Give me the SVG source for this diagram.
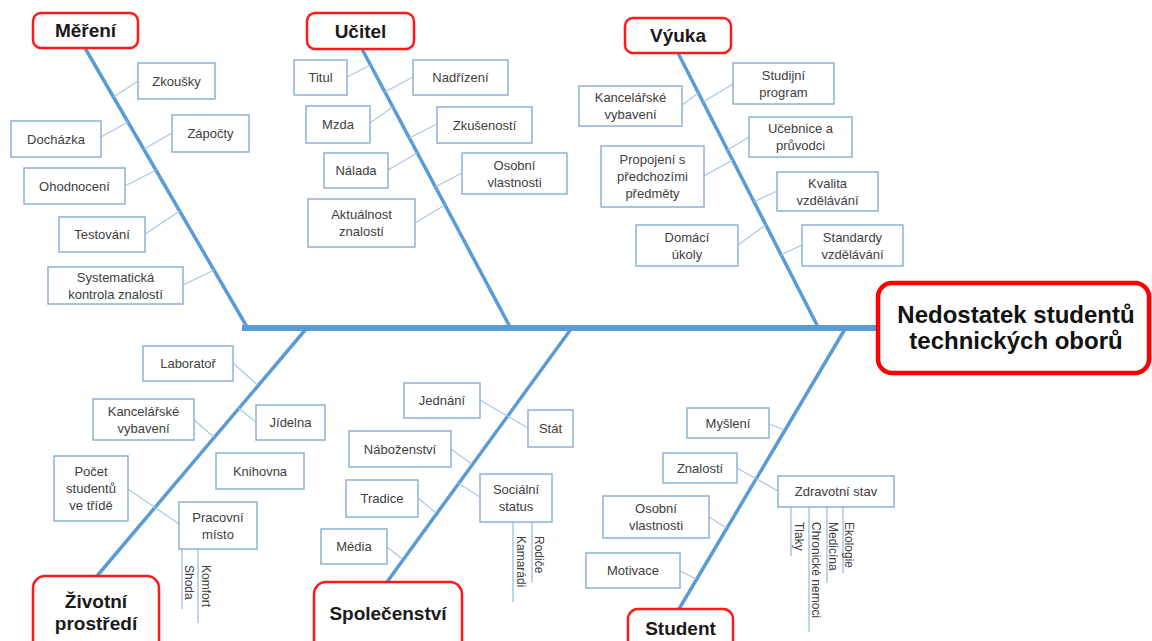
<svg xmlns="http://www.w3.org/2000/svg" width="1152" height="641" viewBox="0 0 1152 641">
<style>
.spine{stroke:#5B9BD5;stroke-width:6;fill:none}
.bone{stroke:#5B9BD5;stroke-width:3.5;fill:none}
.c{stroke:#A9C6E8;stroke-width:1.2;fill:none}
.sub{stroke:#A9C6E8;stroke-width:1.5;fill:none}
.box{fill:#fff;stroke:#8FB0DA;stroke-width:1.5}
.cat{fill:#fff;stroke:#FF1A1A;stroke-width:2.5}
.main{fill:#fff;stroke:#FF0000;stroke-width:4.5}
.t{font-family:"Liberation Sans",Arial,sans-serif;font-size:13px;fill:#404040;text-anchor:middle}
.r{font-family:"Liberation Sans",Arial,sans-serif;font-size:12px;fill:#404040}
.ct{font-family:"Liberation Sans",Arial,sans-serif;font-size:19px;font-weight:bold;fill:#1a1a1a;text-anchor:middle}
.mt{font-family:"Liberation Sans",Arial,sans-serif;font-size:24px;font-weight:bold;fill:#111;text-anchor:middle}
</style>
<rect width="1152" height="641" fill="#fff"/>

<g id="connectors">
  <line class="spine" x1="242" y1="328" x2="878" y2="328"/>
  <line class="bone" x1="85" y1="48" x2="247" y2="327"/>
  <line class="bone" x1="362" y1="49" x2="510" y2="327"/>
  <line class="bone" x1="678" y1="53" x2="818" y2="327"/>
  <line class="bone" x1="306" y1="329" x2="97" y2="576"/>
  <line class="bone" x1="571" y1="329" x2="387" y2="582"/>
  <line class="bone" x1="845" y1="329" x2="679" y2="609"/>
  <!-- Měření -->
  <line class="c" x1="138" y1="81" x2="113.5" y2="97"/>
  <line class="c" x1="101" y1="137" x2="128" y2="122"/>
  <line class="c" x1="172" y1="133" x2="143.8" y2="149"/>
  <line class="c" x1="125" y1="186" x2="156" y2="170"/>
  <line class="c" x1="145" y1="234" x2="180" y2="211"/>
  <line class="c" x1="183" y1="285" x2="214" y2="270"/>
  <!-- Učitel -->
  <line class="c" x1="347" y1="77" x2="370.5" y2="65"/>
  <line class="c" x1="413" y1="77" x2="384.8" y2="92"/>
  <line class="c" x1="370" y1="123" x2="392.8" y2="107"/>
  <line class="c" x1="437" y1="124" x2="409.2" y2="138"/>
  <line class="c" x1="388" y1="170" x2="417.2" y2="153"/>
  <line class="c" x1="462" y1="173" x2="435.2" y2="187"/>
  <line class="c" x1="415" y1="223" x2="444.8" y2="205"/>
  <!-- Výuka -->
  <line class="c" x1="733" y1="84" x2="703" y2="102"/>
  <line class="c" x1="682" y1="105" x2="698.4" y2="93"/>
  <line class="c" x1="749" y1="137" x2="727.4" y2="150"/>
  <line class="c" x1="704" y1="176" x2="732.5" y2="160"/>
  <line class="c" x1="777" y1="191" x2="753.8" y2="202"/>
  <line class="c" x1="738" y1="245" x2="765.5" y2="225"/>
  <line class="c" x1="802" y1="245" x2="780.8" y2="255"/>
  <!-- Životní prostředí -->
  <line class="c" x1="233" y1="363" x2="257.8" y2="385"/>
  <line class="c" x1="194" y1="420" x2="213.8" y2="437"/>
  <line class="c" x1="256" y1="422" x2="238.3" y2="408"/>
  <line class="c" x1="128" y1="489" x2="154.5" y2="507.2"/>
  <line class="c" x1="179" y1="524" x2="154.5" y2="507.2"/>
  <line class="sub" x1="182" y1="549" x2="182" y2="609"/>
  <line class="sub" x1="198" y1="549" x2="198" y2="623"/>
  <!-- Společenství -->
  <line class="c" x1="480" y1="400" x2="506.9" y2="415.7"/>
  <line class="c" x1="528" y1="428" x2="506.9" y2="415.7"/>
  <line class="c" x1="451" y1="449" x2="471.7" y2="464"/>
  <line class="c" x1="480" y1="497" x2="457.9" y2="483"/>
  <line class="c" x1="418" y1="498" x2="436" y2="513"/>
  <line class="c" x1="387" y1="547" x2="402.4" y2="559"/>
  <line class="sub" x1="513" y1="522" x2="513" y2="602"/>
  <line class="sub" x1="532" y1="522" x2="532" y2="582"/>
  <!-- Student -->
  <line class="c" x1="769" y1="424" x2="784.5" y2="430"/>
  <line class="c" x1="737" y1="468" x2="755.8" y2="478.5"/>
  <line class="c" x1="778" y1="491" x2="755.8" y2="478.5"/>
  <line class="c" x1="709" y1="517" x2="726.4" y2="528"/>
  <line class="c" x1="680" y1="571" x2="696.2" y2="579"/>
  <line class="sub" x1="791" y1="507" x2="791" y2="556"/>
  <line class="sub" x1="809" y1="507" x2="809" y2="632"/>
  <line class="sub" x1="827" y1="507" x2="827" y2="583"/>
  <line class="sub" x1="843" y1="507" x2="843" y2="573"/>
</g>

<g id="main-effect">
  <rect class="main" x="878" y="283" width="271" height="90" rx="14"/>
  <text class="mt" x="1016" y="323">Nedostatek studentů</text>
  <text class="mt" x="1016" y="349">technických oborů</text>
</g>

<g id="cat-mereni"><rect class="cat" x="33" y="13" width="105" height="35" rx="8"/><text class="ct" x="85.5" y="37">Měření</text></g>
<g id="cat-ucitel"><rect class="cat" x="307" y="13" width="107" height="36" rx="8"/><text class="ct" x="360.5" y="37.5">Učitel</text></g>
<g id="cat-vyuka"><rect class="cat" x="625" y="18" width="106" height="35" rx="8"/><text class="ct" x="678" y="42">Výuka</text></g>
<g id="cat-zivotni"><rect class="cat" x="33" y="576" width="126" height="90" rx="12"/><text class="ct" x="96" y="608">Životní</text><text class="ct" x="96" y="630">prostředí</text></g>
<g id="cat-spolecenstvi"><rect class="cat" x="314" y="582" width="148" height="80" rx="12"/><text class="ct" x="388" y="620">Společenství</text></g>
<g id="cat-student"><rect class="cat" x="628" y="609" width="105" height="60" rx="10"/><text class="ct" x="680.5" y="635">Student</text></g>

<!-- Měření causes -->
<g id="n-zkousky"><rect class="box" x="138" y="63" width="77" height="36"/><text class="t" x="176.5" y="85.5">Zkoušky</text></g>
<g id="n-dochazka"><rect class="box" x="11" y="121" width="90" height="36"/><text class="t" x="56" y="143.5">Docházka</text></g>
<g id="n-zapocty"><rect class="box" x="172" y="115" width="77" height="37"/><text class="t" x="210.5" y="138">Zápočty</text></g>
<g id="n-ohodnoceni"><rect class="box" x="24" y="168" width="101" height="36"/><text class="t" x="74.5" y="190.5">Ohodnocení</text></g>
<g id="n-testovani"><rect class="box" x="59" y="217" width="86" height="35"/><text class="t" x="102" y="239">Testování</text></g>
<g id="n-systematicka"><rect class="box" x="48" y="267" width="135" height="37"/><text class="t" x="115.5" y="282"><tspan x="115.5">Systematická</tspan><tspan x="115.5" dy="17">kontrola znalostí</tspan></text></g>

<!-- Učitel causes -->
<g id="n-titul"><rect class="box" x="294" y="60" width="53" height="35"/><text class="t" x="320.5" y="82">Titul</text></g>
<g id="n-nadrizeni"><rect class="box" x="413" y="60" width="95" height="35"/><text class="t" x="460.5" y="82">Nadřízení</text></g>
<g id="n-mzda"><rect class="box" x="306" y="106" width="64" height="37"/><text class="t" x="338" y="129">Mzda</text></g>
<g id="n-zkusenosti"><rect class="box" x="437" y="107" width="95" height="36"/><text class="t" x="484.5" y="129.5">Zkušeností</text></g>
<g id="n-nalada"><rect class="box" x="324" y="153" width="64" height="35"/><text class="t" x="356" y="175">Nálada</text></g>
<g id="n-osobni-u"><rect class="box" x="462" y="153" width="105" height="41"/><text class="t" x="514.5" y="169.5"><tspan x="514.5">Osobní</tspan><tspan x="514.5" dy="17">vlastnosti</tspan></text></g>
<g id="n-aktualnost"><rect class="box" x="308" y="199" width="107" height="48"/><text class="t" x="361.5" y="219"><tspan x="361.5">Aktuálnost</tspan><tspan x="361.5" dy="17">znalostí</tspan></text></g>

<!-- Výuka causes -->
<g id="n-studijni"><rect class="box" x="733" y="63" width="101" height="41"/><text class="t" x="783.5" y="79.5"><tspan x="783.5">Studijní</tspan><tspan x="783.5" dy="17">program</tspan></text></g>
<g id="n-kancelarske-v"><rect class="box" x="579" y="86" width="103" height="40"/><text class="t" x="630.5" y="102"><tspan x="630.5">Kancelářské</tspan><tspan x="630.5" dy="17">vybavení</tspan></text></g>
<g id="n-ucebnice"><rect class="box" x="749" y="117" width="103" height="40"/><text class="t" x="800.5" y="133"><tspan x="800.5">Učebnice a</tspan><tspan x="800.5" dy="17">průvodci</tspan></text></g>
<g id="n-propojeni"><rect class="box" x="601" y="146" width="103" height="61"/><text class="t" x="652.5" y="164"><tspan x="652.5">Propojení s</tspan><tspan x="652.5" dy="17">předchozími</tspan><tspan x="652.5" dy="17">předměty</tspan></text></g>
<g id="n-kvalita"><rect class="box" x="777" y="172" width="101" height="39"/><text class="t" x="827.5" y="187.5"><tspan x="827.5">Kvalita</tspan><tspan x="827.5" dy="17">vzdělávání</tspan></text></g>
<g id="n-domaci"><rect class="box" x="636" y="225" width="102" height="41"/><text class="t" x="687" y="241.5"><tspan x="687">Domácí</tspan><tspan x="687" dy="17">úkoly</tspan></text></g>
<g id="n-standardy"><rect class="box" x="802" y="225" width="101" height="41"/><text class="t" x="852.5" y="241.5"><tspan x="852.5">Standardy</tspan><tspan x="852.5" dy="17">vzdělávání</tspan></text></g>

<!-- Životní prostředí causes -->
<g id="n-laborator"><rect class="box" x="143" y="346" width="90" height="35"/><text class="t" x="188" y="368">Laboratoř</text></g>
<g id="n-kancelarske-z"><rect class="box" x="93" y="399" width="101" height="41"/><text class="t" x="143.5" y="415.5"><tspan x="143.5">Kancelářské</tspan><tspan x="143.5" dy="17">vybavení</tspan></text></g>
<g id="n-jidelna"><rect class="box" x="256" y="405" width="69" height="35"/><text class="t" x="290.5" y="427">Jídelna</text></g>
<g id="n-knihovna"><rect class="box" x="216" y="453" width="88" height="36"/><text class="t" x="260" y="475.5">Knihovna</text></g>
<g id="n-pocet"><rect class="box" x="54" y="456" width="74" height="65"/><text class="t" x="91" y="476"><tspan x="91">Počet</tspan><tspan x="91" dy="17">studentů</tspan><tspan x="91" dy="17">ve třídě</tspan></text></g>
<g id="n-pracovni"><rect class="box" x="179" y="502" width="78" height="47"/><text class="t" x="218" y="521.5"><tspan x="218">Pracovní</tspan><tspan x="218" dy="17">místo</tspan></text></g>
<g id="n-shoda"><text class="r" transform="translate(185 565) rotate(90)">Shoda</text></g>
<g id="n-komfort"><text class="r" transform="translate(202 565) rotate(90)">Komfort</text></g>

<!-- Společenství causes -->
<g id="n-jednani"><rect class="box" x="404" y="383" width="76" height="35"/><text class="t" x="442" y="405">Jednání</text></g>
<g id="n-stat"><rect class="box" x="528" y="410" width="45" height="37"/><text class="t" x="550.5" y="433">Stát</text></g>
<g id="n-nabozenstvi"><rect class="box" x="349" y="431" width="102" height="36"/><text class="t" x="400" y="453.5">Náboženství</text></g>
<g id="n-socialni"><rect class="box" x="480" y="474" width="72" height="48"/><text class="t" x="516" y="494"><tspan x="516">Sociální</tspan><tspan x="516" dy="17">status</tspan></text></g>
<g id="n-tradice"><rect class="box" x="346" y="480" width="72" height="37"/><text class="t" x="382" y="503">Tradice</text></g>
<g id="n-media"><rect class="box" x="321" y="529" width="66" height="35"/><text class="t" x="354" y="551">Média</text></g>
<g id="n-kamaradi"><text class="r" transform="translate(517 536) rotate(90)">Kamarádi</text></g>
<g id="n-rodice"><text class="r" transform="translate(535 536) rotate(90)">Rodiče</text></g>

<!-- Student causes -->
<g id="n-mysleni"><rect class="box" x="687" y="408" width="82" height="30"/><text class="t" x="728" y="427.5">Myšlení</text></g>
<g id="n-znalosti"><rect class="box" x="663" y="453" width="74" height="30"/><text class="t" x="700" y="472.5">Znalostí</text></g>
<g id="n-zdravotni"><rect class="box" x="778" y="476" width="116" height="31"/><text class="t" x="836" y="496">Zdravotní stav</text></g>
<g id="n-osobni-s"><rect class="box" x="603" y="496" width="106" height="42"/><text class="t" x="656" y="513"><tspan x="656">Osobní</tspan><tspan x="656" dy="17">vlastnosti</tspan></text></g>
<g id="n-motivace"><rect class="box" x="586" y="553" width="94" height="35"/><text class="t" x="633" y="575">Motivace</text></g>
<g id="n-tlaky"><text class="r" transform="translate(795 522) rotate(90)">Tlaky</text></g>
<g id="n-chronicke"><text class="r" transform="translate(812 522) rotate(90)">Chronické nemoci</text></g>
<g id="n-medicina"><text class="r" transform="translate(829 522) rotate(90)">Medicína</text></g>
<g id="n-ekologie"><text class="r" transform="translate(845 522) rotate(90)">Ekologie</text></g>
</svg>
